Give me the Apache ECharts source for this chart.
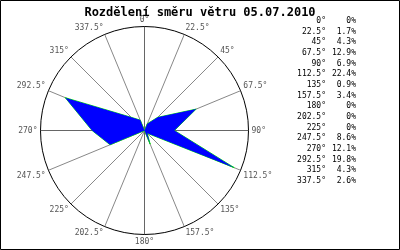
<!DOCTYPE html>
<html>
<head>
<meta charset="utf-8">
<script src="https://cdn.jsdelivr.net/npm/echarts@6/dist/echarts.min.js"></script>
<style>html,body{margin:0;padding:0;background:#fff;}#c{width:400px;height:250px;}</style>
</head>
<body>
<div id="c"></div>
<script>
var directions = [0, 22.5, 45, 67.5, 90, 112.5, 135, 157.5, 180, 202.5, 225, 247.5, 270, 292.5, 315, 337.5];
var directionLabels = ['0°','22.5°','45°','67.5°','90°','112.5°','135°','157.5°','180°','202.5°','225°','247.5°','270°','292.5°','315°','337.5°'];
var percentages = [0, 1.7, 4.3, 12.9, 6.9, 22.4, 0.9, 3.4, 0, 0, 0, 8.6, 12.1, 19.8, 4.3, 2.6];
var percentLabels = ['0%','1.7%','4.3%','12.9%','6.9%','22.4%','0.9%','3.4%','0%','0%','0%','8.6%','12.1%','19.8%','4.3%','2.6%'];

var pts = directions.map(function(d, i){ return [percentages[i], d]; });
pts.push([percentages[0], 360]);

var mono = 'DejaVu Sans Mono';
var graphics = [{
  type: 'rect', shape: {x: 0.5, y: 0.5, width: 399, height: 249},
  style: {fill: 'none', stroke: '#000', lineWidth: 1}, silent: true, z: 100
}];
var rowTop = 21, rowStep = 10.67;
directionLabels.forEach(function(lab, i){
  graphics.push({type: 'text', x: 326, y: rowTop + i*rowStep,
    style: {text: lab, fill: '#000', font: '8px "' + mono + '"', textAlign: 'right', textVerticalAlign: 'middle'}});
  graphics.push({type: 'text', x: 356, y: rowTop + i*rowStep,
    style: {text: percentLabels[i], fill: '#000', font: '8px "' + mono + '"', textAlign: 'right', textVerticalAlign: 'middle'}});
});

var chart = echarts.init(document.getElementById('c'), null, {renderer: 'canvas'});
chart.setOption({
  animation: false,
  backgroundColor: '#fff',
  title: {
    text: 'Rozdělení směru větru 05.07.2010', left: 'center', top: 2,
    textStyle: {fontFamily: mono, fontWeight: 'bold', fontSize: 12, color: '#000'}
  },
  polar: {center: [144.5, 130.5], radius: 104},
  angleAxis: {
    type: 'value', min: 0, max: 360, interval: 22.5, startAngle: 90, clockwise: true,
    axisLine: {lineStyle: {color: '#000', width: 1}},
    axisTick: {show: false},
    splitLine: {show: true, lineStyle: {color: ['#666', '#888', '#888', '#888'], width: 1}},
    axisLabel: {
      margin: 3, color: '#555', fontFamily: mono, fontSize: 8,
      formatter: function(v){ var i = directions.indexOf(v); return i >= 0 ? directionLabels[i] : ''; }
    }
  },
  radiusAxis: {type: 'value', min: 0, max: 24, show: false},
  series: [
    {type: 'line', coordinateSystem: 'polar', data: pts, symbol: 'none',
     lineStyle: {color: '#00ee00', width: 1}, z: 2},
    {type: 'line', coordinateSystem: 'polar', data: pts, symbol: 'none',
     lineStyle: {width: 0, color: '#0000ff'}, areaStyle: {color: '#0000ff', opacity: 1}, z: 3}
  ],
  graphic: graphics
});
</script>
</body>
</html>
